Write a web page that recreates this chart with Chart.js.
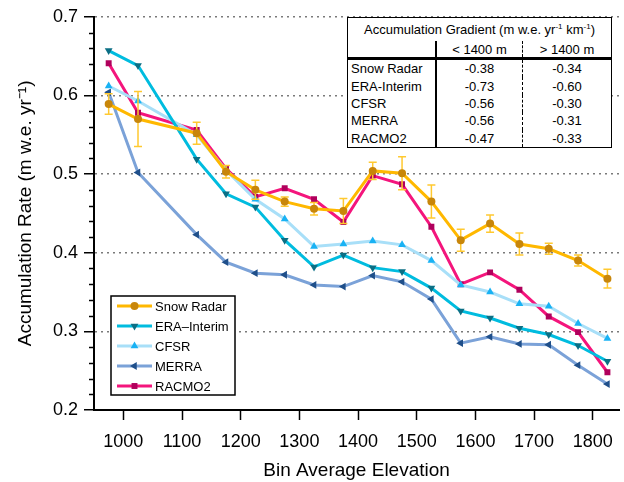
<!DOCTYPE html>
<html>
<head>
<meta charset="utf-8">
<script src="https://cdn.jsdelivr.net/npm/chart.js@4.4.1/dist/chart.umd.min.js"></script>
<style>
  html, body { margin: 0; padding: 0; background: #fff; }
  #wrap { position: relative; width: 624px; height: 482px; }
  #gradTable {
    position: absolute; left: 347px; top: 17px;
    border-collapse: collapse; background: #fff;
    font-family: "Liberation Sans", Arial, sans-serif; font-size: 13px; color: #000;
    border: 1.5px solid #000;
  }
  #gradTable td { padding: 0; line-height: 1; }
  #gradTable .title td { height: 23px; text-align: center; }
  #gradTable .head td { height: 16px; text-align: center; border-bottom: 3px solid #000; }
  #gradTable .row td { height: 17.4px; text-align: center; }
  #gradTable td.name { text-align: left; padding-left: 3px; width: 84px; }
  #gradTable td.c1 { border-left: 2px solid #000; width: 85px; }
  #gradTable td.c2 { border-left: 1.5px dashed #000; width: 88px; }
  sup { font-size: 8px; vertical-align: 5px; line-height: 0; }
</style>
</head>
<body>
<div id="wrap">
  <canvas id="accChart" width="624" height="482"></canvas>
  <table id="gradTable"></table>
</div>
<script>
// bin centres (m)
const elevations = [975, 1025, 1125, 1175, 1225, 1275, 1325, 1375, 1425, 1475, 1525, 1575, 1625, 1675, 1725, 1775, 1825];
const xTicks = [1000, 1100, 1200, 1300, 1400, 1500, 1600, 1700, 1800];
const yTicks = [0.2, 0.3, 0.4, 0.5, 0.6, 0.7];

// accumulation rate (m w.e. / yr)
const snowRadar    = [0.589, 0.570, 0.552, 0.503, 0.480, 0.465, 0.456, 0.453, 0.504, 0.501, 0.465, 0.416, 0.437, 0.411, 0.405, 0.390, 0.367];
const snowRadarErr = [0.013, 0.035, 0.014, 0.008, 0.012, 0.006, 0.008, 0.016, 0.011, 0.021, 0.021, 0.014, 0.011, 0.014, 0.007, 0.007, 0.012];
const eraInterim   = [0.657, 0.638, 0.519, 0.475, 0.458, 0.416, 0.382, 0.397, 0.381, 0.376, 0.355, 0.326, 0.317, 0.304, 0.296, 0.282, 0.262];
const cfsr         = [0.612, 0.593, 0.550, 0.505, 0.468, 0.443, 0.408, 0.411, 0.415, 0.410, 0.390, 0.359, 0.350, 0.335, 0.332, 0.310, 0.291];
const merra        = [0.604, 0.502, 0.423, 0.388, 0.374, 0.372, 0.359, 0.357, 0.371, 0.363, 0.341, 0.285, 0.293, 0.284, 0.283, 0.257, 0.233];
const racmo2       = [0.641, 0.578, 0.556, 0.507, 0.471, 0.482, 0.468, 0.439, 0.498, 0.487, 0.433, 0.360, 0.375, 0.353, 0.319, 0.299, 0.248];

// gradient table
const tableNames    = ['Snow Radar', 'ERA-Interim', 'CFSR', 'MERRA', 'RACMO2'];
const gradientBelow = ['-0.38', '-0.73', '-0.56', '-0.56', '-0.47'];
const gradientAbove = ['-0.34', '-0.60', '-0.30', '-0.31', '-0.33'];

const fontFamily = '"Liberation Sans", Arial, sans-serif';

function pts(vals) {
  return vals.map((v, i) => ({ x: elevations[i], y: v }));
}

function series(label, vals, line, marker, style, rot, r) {
  return {
    label: label,
    data: pts(vals),
    borderColor: line,
    backgroundColor: marker,
    pointBackgroundColor: marker,
    pointBorderColor: marker,
    pointBorderWidth: 0,
    pointStyle: style,
    rotation: rot,
    pointRadius: r,
    borderWidth: 3,
    tension: 0
  };
}

const datasets = [
  series('Snow Radar', snowRadar, '#FFB800', '#C8860A', 'circle', 0, 4),
  series('ERA\u2013Interim', eraInterim, '#00BCDF', '#0B6F85', 'triangle', 180, 4.5),
  series('CFSR', cfsr, '#A8DFF8', '#18B2F4', 'triangle', 0, 4.5),
  series('MERRA', merra, '#7BA2D8', '#1F4F8A', 'triangle', 270, 4.5),
  series('RACMO2', racmo2, '#F4157C', '#B0005C', 'rect', 0, 4.2)
];

function drawMarker(ctx, style, rot, r, x, y) {
  ctx.save();
  ctx.translate(x, y);
  ctx.rotate(rot * Math.PI / 180);
  ctx.beginPath();
  if (style === 'circle') {
    ctx.arc(0, 0, r, 0, Math.PI * 2);
  } else if (style === 'rect') {
    const s = r * Math.SQRT1_2;
    ctx.rect(-s, -s, 2 * s, 2 * s);
  } else {
    for (let k = 0; k < 3; k++) {
      const a = -Math.PI / 2 + k * 2 * Math.PI / 3;
      ctx.lineTo(Math.cos(a) * r, Math.sin(a) * r);
    }
    ctx.closePath();
  }
  ctx.fill();
  ctx.restore();
}

// snow radar error bars, drawn under the snow radar line
const errorBars = {
  id: 'errorBars',
  beforeDatasetDraw(chart, args) {
    if (args.index !== 0) return;
    const ctx = chart.ctx, xs = chart.scales.x, ys = chart.scales.y;
    ctx.save();
    ctx.strokeStyle = '#FFC930';
    ctx.lineWidth = 1.5;
    elevations.forEach((e, i) => {
      const px = xs.getPixelForValue(e);
      const top = ys.getPixelForValue(snowRadar[i] + snowRadarErr[i]);
      const bot = ys.getPixelForValue(snowRadar[i] - snowRadarErr[i]);
      ctx.beginPath();
      ctx.moveTo(px, top); ctx.lineTo(px, bot);
      ctx.moveTo(px - 4, top); ctx.lineTo(px + 4, top);
      ctx.moveTo(px - 4, bot); ctx.lineTo(px + 4, bot);
      ctx.stroke();
    });
    ctx.restore();
  }
};

// minor ticks on y axis + legend box in lower-left
const extras = {
  id: 'extras',
  afterDraw(chart) {
    const ctx = chart.ctx, ys = chart.scales.y, area = chart.chartArea;
    ctx.save();
    ctx.strokeStyle = '#000';
    ctx.lineWidth = 1.5;
    for (let v = 20; v <= 70; v += 2) {
      if (v % 10 === 0) continue;
      const py = Math.round(ys.getPixelForValue(v / 100)) + 0.5;
      ctx.beginPath();
      ctx.moveTo(area.left - 5, py);
      ctx.lineTo(area.left, py);
      ctx.stroke();
    }

    // legend
    const lx = area.left + 17, ly = area.bottom - 114, lw = 124, lh = 99;
    ctx.fillStyle = '#fff';
    ctx.fillRect(lx, ly, lw, lh);
    ctx.lineWidth = 1.5;
    ctx.strokeRect(lx, ly, lw, lh);
    ctx.font = '13px ' + fontFamily;
    ctx.textBaseline = 'middle';
    datasets.forEach((ds, i) => {
      const ry = ly + 10 + i * 20;
      ctx.strokeStyle = ds.borderColor;
      ctx.lineWidth = 3;
      ctx.beginPath();
      ctx.moveTo(lx + 6, ry); ctx.lineTo(lx + 41, ry);
      ctx.stroke();
      ctx.fillStyle = ds.pointBackgroundColor;
      drawMarker(ctx, ds.pointStyle, ds.rotation, ds.pointRadius, lx + 23.5, ry);
      ctx.fillStyle = '#000';
      ctx.fillText(ds.label, lx + 44, ry + 1);
    });
    ctx.restore();
  }
};

const config = {
  type: 'line',
  data: { datasets: datasets },
  options: {
    responsive: false,
    animation: false,
    layout: { padding: { top: 13, right: 0, left: 0, bottom: 0 } },
    plugins: { legend: { display: false }, tooltip: { enabled: false } },
    scales: {
      x: {
        type: 'linear',
        min: 950,
        max: 1845,
        afterFit(scale) { scale.height = 72; },
        afterBuildTicks(scale) { scale.ticks = xTicks.map(v => ({ value: v })); },
        grid: { drawOnChartArea: false, tickLength: 10, tickColor: '#000', tickWidth: 1.5 },
        border: { color: '#000', width: 2 },
        ticks: {
          padding: 11,
          color: '#000',
          font: { family: fontFamily, size: 18 },
          maxRotation: 0,
          autoSkip: false,
          callback: v => String(v)
        },
        title: {
          display: true,
          text: 'Bin Average Elevation',
          color: '#000',
          font: { family: fontFamily, size: 19 },
          padding: { top: 6, bottom: 0 }
        }
      },
      y: {
        min: 0.2,
        max: 0.7,
        afterFit(scale) { scale.width = 94; },
        afterBuildTicks(scale) { scale.ticks = yTicks.map(v => ({ value: v })); },
        grid: {
          color: ctx => (ctx.tick && Math.abs(ctx.tick.value - 0.2) < 1e-6) ? 'rgba(0,0,0,0)' : '#7a7a7a',
          lineWidth: 1.5,
          tickLength: 10,
          tickColor: '#000',
          tickWidth: 1.5
        },
        border: { color: '#000', width: 2, dash: [2, 4] },
        ticks: {
          padding: 6,
          color: '#000',
          font: { family: fontFamily, size: 18 },
          callback: v => v.toFixed(1)
        },
        title: {
          display: true,
          text: 'Accumulation Rate (m w.e. yr\u207B\u00B9)',
          color: '#000',
          font: { family: fontFamily, size: 19 },
          padding: { top: 14, bottom: 4 }
        }
      }
    }
  },
  plugins: [errorBars, extras]
};

const myChart = new Chart(document.getElementById('accChart'), config);

// gradient table
const tbl = document.getElementById('gradTable');
let html = '<tr class="title"><td colspan="3">Accumulation Gradient (m w.e. yr<sup>-1</sup> km<sup>-1</sup>)</td></tr>';
html += '<tr class="head"><td class="name"></td><td class="c1">&lt; 1400 m</td><td class="c2">&gt; 1400 m</td></tr>';
tableNames.forEach((n, i) => {
  html += '<tr class="row"><td class="name">' + n + '</td><td class="c1">' + gradientBelow[i] + '</td><td class="c2">' + gradientAbove[i] + '</td></tr>';
});
tbl.innerHTML = html;
</script>
</body>
</html>
